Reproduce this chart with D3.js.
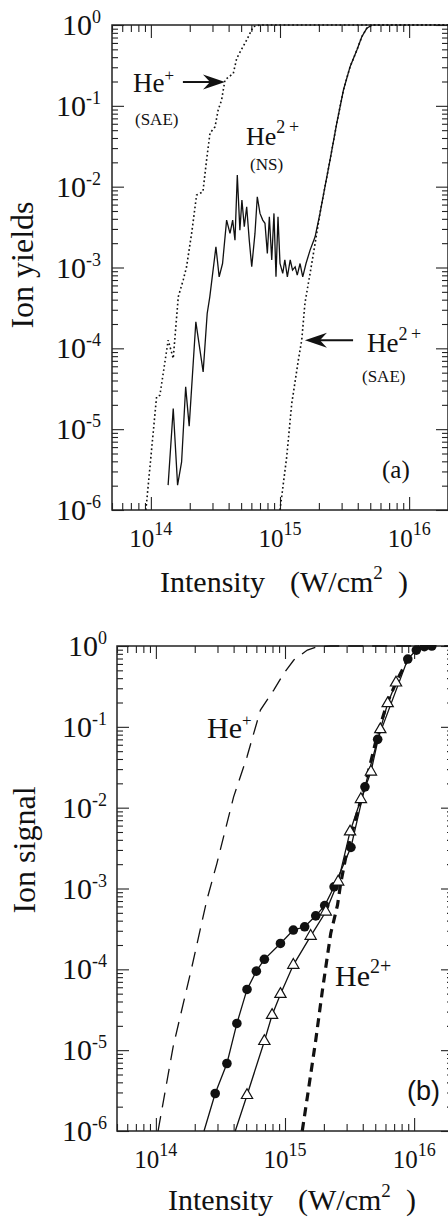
<!DOCTYPE html>
<html><head><meta charset="utf-8">
<script src="https://cdn.jsdelivr.net/npm/d3@7"></script>
<style>body{margin:0;background:#fff}svg{display:block}</style>
</head><body>
<svg id="c" width="448" height="1217"></svg>
<script>
// ---------- Panel (a) data ----------
const aHe1SAE_I = [9.15e13,1.107e14,1.175e14,1.362e14,1.49e14,1.63e14,1.78e14,1.89e14,2.07e14,2.26e14,2.53e14,2.70e14,2.87e14,3.14e14,3.32e14,3.53e14,3.75e14,4.35e14,4.62e14,5.52e14,6.21e14,7.0e14,2e16];
const aHe1SAE_Y = [1e-6,2.51e-5,2.63e-5,1.26e-4,7.5e-5,4.34e-4,7.0e-4,1.02e-3,2.67e-3,7.87e-3,8.65e-3,0.0213,0.046,0.055,0.0887,0.118,0.209,0.252,0.387,0.652,0.953,1,1];

const aHe2SAE_I = [1e15,1.127e15,1.233e15,1.268e15,1.387e15,1.473e15,1.56e15,1.657e15,1.71e15,1.87e15,2.04e15,2.23e15,2.44e15,2.75e15,3.10e15,3.49e15,3.94e15,4.30e15,4.70e15,5.17e15,2e16];
const aHe2SAE_Y = [1e-6,4.54e-6,2.08e-5,2.77e-5,7.14e-5,1.26e-4,3.6e-4,6.35e-4,8.45e-4,1.99e-3,4.67e-3,9.98e-3,0.0213,0.0607,0.157,0.305,0.49,0.717,0.91,1,1];

const aHe2NS_I = [1.36e14,1.49e14,1.61e14,1.73e14,1.86e14,1.98e14,2.23e14,2.54e14,2.73e14,2.86e14,3.19e14,3.38e14,3.59e14,3.86e14,4.10e14,4.30e14,4.48e14,4.67e14,4.89e14,5.07e14,5.29e14,5.52e14,5.78e14,6.04e14,6.40e14,6.67e14,7.0e14,7.35e14,7.65e14,7.98e14,8.27e14,8.63e14,8.98e14,9.31e14,9.65e14,1.0e15,1.05e15,1.09e15,1.14e15,1.20e15,1.25e15,1.31e15,1.36e15,1.43e15,1.50e15,1.59e15,1.71e15,1.87e15,2.04e15,2.23e15,2.44e15,2.75e15,3.10e15,3.49e15,3.94e15,4.30e15,4.70e15,5.17e15];
const aHe2NS_Y = [2.03e-6,1.80e-5,2.03e-6,3.94e-6,3.34e-5,1.09e-5,2.13e-4,5.12e-5,2.70e-4,4.34e-4,1.80e-3,7.67e-4,1.12e-3,3.86e-3,2.64e-3,3.86e-3,2.18e-3,0.0139,2.90e-3,6.83e-3,3.19e-3,5.64e-3,2.18e-3,1.02e-3,2.64e-3,7.50e-3,4.67e-3,3.86e-3,3.52e-3,1.49e-3,4.24e-3,1.24e-3,4.67e-3,7.67e-4,4.24e-3,1.12e-3,8.45e-4,1.24e-3,7.67e-4,1.24e-3,9.29e-4,1.02e-3,8.05e-4,1.12e-3,7.67e-4,1.12e-3,1.64e-3,2.40e-3,4.67e-3,9.98e-3,0.0213,0.0607,0.157,0.305,0.49,0.717,0.91,1.0];

// ---------- Panel (b) data ----------
const bHe1_I = [1.04e14,1.36e14,1.90e14,2.48e14,2.97e14,4.0e14,5.08e14,6.45e14,8.18e14,9.79e14,1.17e15,1.49e15,1.78e15,2.26e15,2e16];
const bHe1_Y = [1e-6,1.10e-5,1.07e-4,7.18e-4,2.05e-3,0.0136,0.0427,0.161,0.285,0.459,0.671,0.892,0.98,1,1];

const bCirc_I = [2.88e14,3.55e14,4.24e14,5.08e14,6.0e14,6.92e14,9.22e14,1.16e15,1.42e15,1.73e15,2.03e15,2.40e15,3.24e15,4.16e15,5.22e15,8.93e15,1.04e16,1.20e16,1.37e16];
const bCirc_Y = [2.91e-6,6.84e-6,2.14e-5,5.64e-5,9.5e-5,1.33e-4,2.09e-4,3.06e-4,3.36e-4,4.59e-4,6.14e-4,1.05e-3,3.23e-3,0.0181,0.070,0.69,0.89,0.98,1.0];
// where the connecting line leaves the bottom axis (no marker)
const bCircLineStart = [2.36e14, 1e-6];

const bTri_I = [5.08e14,6.92e14,7.94e14,9.22e14,1.16e15,1.58e15,2.07e15,2.58e15,3.19e15,3.87e15,4.63e15,5.47e15,6.24e15,7.24e15];
const bTri_Y = [2.77e-6,1.29e-5,2.71e-5,4.93e-5,1.13e-4,2.58e-4,5.15e-4,1.21e-3,5.04e-3,0.0127,0.0278,0.093,0.195,0.351];
const bTriLineStart = [4.12e14, 1e-6];

const bHe2_I = [1.36e15,1.49e15,1.73e15,1.95e15,2.07e15,2.26e15,2.55e15,2.70e15,2.96e15,3.5e15,4.2e15,5.2e15,6.2e15,7.5e15,9.0e15,1.1e16];
const bHe2_Y = [1e-6,2.64e-6,1.33e-5,5.53e-5,1.07e-4,2.78e-4,6.23e-4,1.16e-3,2.47e-3,7e-3,0.02,0.08,0.2,0.4,0.7,1.0];

// tick labels
const xMajor = [1e14,1e15,1e16];
const xMajorLabels = ["14","15","16"];
const yMajor = [1,1e-1,1e-2,1e-3,1e-4,1e-5,1e-6];
const yMajorLabels = ["0","-1","-2","-3","-4","-5","-6"];

const SERIF = "'Liberation Serif','Times New Roman',serif";
const SANS = "'Liberation Sans',Arial,sans-serif";
const svg = d3.select("#c");

function minorVals(lo, hi, e0, e1){
  const out=[];
  for(let e=e0;e<=e1;e++) for(let m=1;m<=9;m++){const v=m*Math.pow(10,e); if(v>=lo*0.999&&v<=hi*1.001&&m!==1) out.push(v);}
  return out;
}

function panel(cfg){
  const x = d3.scaleLog().domain([5e13,2e16]).range([cfg.L,cfg.R]);
  const y = d3.scaleLog().domain([1e-6,1]).range([cfg.B,cfg.T]);
  const g = svg.append("g");
  const cid = "clip"+cfg.id;
  svg.append("defs").append("clipPath").attr("id",cid).append("rect")
    .attr("x",cfg.L).attr("y",cfg.T-1).attr("width",cfg.R-cfg.L).attr("height",cfg.B-cfg.T+2);
  const xm = minorVals(5e13,2e16,13,16), ym = minorVals(1e-6,1,-6,-1);
  const styleAx = sel => { sel.select(".domain").remove(); sel.selectAll("line").attr("stroke","#222").attr("stroke-width",1.1); sel.selectAll("text").remove(); };
  g.append("g").attr("transform",`translate(0,${cfg.B})`).call(d3.axisBottom(x).tickValues(xm).tickSize(-7).tickFormat("")).call(styleAx);
  g.append("g").attr("transform",`translate(0,${cfg.B})`).call(d3.axisBottom(x).tickValues(xMajor).tickSize(-13).tickFormat("")).call(styleAx);
  g.append("g").attr("transform",`translate(0,${cfg.T})`).call(d3.axisTop(x).tickValues(xm).tickSize(-7).tickFormat("")).call(styleAx);
  g.append("g").attr("transform",`translate(0,${cfg.T})`).call(d3.axisTop(x).tickValues(xMajor).tickSize(-13).tickFormat("")).call(styleAx);
  g.append("g").attr("transform",`translate(${cfg.L},0)`).call(d3.axisLeft(y).tickValues(ym).tickSize(-6).tickFormat("")).call(styleAx);
  g.append("g").attr("transform",`translate(${cfg.L},0)`).call(d3.axisLeft(y).tickValues(yMajor).tickSize(-12).tickFormat("")).call(styleAx);
  g.append("g").attr("transform",`translate(${cfg.R},0)`).call(d3.axisRight(y).tickValues(ym).tickSize(-6).tickFormat("")).call(styleAx);
  g.append("g").attr("transform",`translate(${cfg.R},0)`).call(d3.axisRight(y).tickValues(yMajor).tickSize(-12).tickFormat("")).call(styleAx);
  g.append("rect").attr("x",cfg.L).attr("y",cfg.T).attr("width",cfg.R-cfg.L).attr("height",cfg.B-cfg.T)
    .attr("fill","none").attr("stroke","#222").attr("stroke-width",1.5);
  xMajor.forEach((v,i)=>{
    const t = g.append("text").attr("x",x(v)).attr("y",cfg.B+37).attr("text-anchor","middle")
      .attr("font-family",SERIF).attr("font-size",25).attr("fill","#111");
    t.append("tspan").text("10");
    t.append("tspan").attr("dy",-12).attr("font-size",18).text(xMajorLabels[i]);
  });
  yMajor.forEach((v,i)=>{
    const t = g.append("text").attr("x",cfg.L-cfg.ylOff).attr("y",y(v)+10).attr("text-anchor","end")
      .attr("font-family",SERIF).attr("font-size",30).attr("fill","#111");
    t.append("tspan").text("10");
    t.append("tspan").attr("dy",-12).attr("font-size",18).text(yMajorLabels[i]);
  });
  const xt = g.append("text").attr("y",cfg.xtY).attr("font-family",SERIF).attr("font-size",30).attr("fill","#111");
  xt.append("tspan").attr("x",cfg.xtX).text("Intensity");
  xt.append("tspan").attr("x",cfg.xtX+130).text("(W/cm");
  xt.append("tspan").attr("dy",-13).attr("font-size",19).text("2");
  xt.append("tspan").attr("dy",13).attr("x",cfg.xtX+238).text(")");
  g.append("text").attr("transform",`translate(${cfg.ytX},${cfg.ytY}) rotate(-90)`).attr("text-anchor","middle")
    .attr("font-family",SERIF).attr("font-size",32).attr("fill","#111").text(cfg.ytitle);
  const plot = g.append("g").attr("clip-path",`url(#${cid})`);
  return {x,y,g,plot};
}

function lineOf(x,y,I,Y){ return d3.line().x((d,i)=>x(I[i])).y((d,i)=>y(Y[i]))(I); }

// ===== Panel (a) =====
const A = panel({id:"a",L:112,R:448,T:25,B:510,ylOff:11,xtX:160,xtY:592,ytX:33,ytY:265,ytitle:"Ion yields"});
A.plot.append("path").attr("d",lineOf(A.x,A.y,aHe1SAE_I,aHe1SAE_Y)).attr("fill","none").attr("stroke","#111").attr("stroke-width",1.6).attr("stroke-dasharray","1.7,2.6");
A.plot.append("path").attr("d",lineOf(A.x,A.y,aHe2SAE_I,aHe2SAE_Y)).attr("fill","none").attr("stroke","#111").attr("stroke-width",1.6).attr("stroke-dasharray","1.7,2.6");
A.plot.append("path").attr("d",lineOf(A.x,A.y,aHe2NS_I,aHe2NS_Y)).attr("fill","none").attr("stroke","#111").attr("stroke-width",1.3).attr("stroke-linejoin","miter");

function arrow(g,x1,y1,x2,y2){
  const dir = Math.sign(x2-x1);
  g.append("line").attr("x1",x1).attr("y1",y1).attr("x2",x2-dir*14).attr("y2",y2).attr("stroke","#111").attr("stroke-width",2);
  g.append("path").attr("d",`M${x2},${y2} L${x2-dir*22},${y2-7.5} L${x2-dir*15},${y2} L${x2-dir*22},${y2+7.5} Z`).attr("fill","#111");
}
arrow(A.g, A.x(1.77e14), A.y(0.197), A.x(3.75e14), A.y(0.197));
arrow(A.g, A.x(3.68e15), A.y(1.26e-4), A.x(1.56e15), A.y(1.26e-4));

function label(g,xx,yy,main,sup,size,supSize,dy){
  const t = g.append("text").attr("x",xx).attr("y",yy).attr("font-family",SERIF).attr("font-size",size).attr("fill","#111");
  t.append("tspan").text(main);
  if(sup) t.append("tspan").attr("dy",-dy).attr("font-size",supSize).text(sup);
  return t;
}
label(A.g,133,92,"He","+",27,17,11);
label(A.g,135,125,"(SAE)",null,17);
label(A.g,246,145,"He","2\u2009+",26,18,12);
label(A.g,250,170,"(NS)",null,17);
label(A.g,367,352,"He","2\u2009+",27,18,12);
label(A.g,362,382,"(SAE)",null,17);
label(A.g,382,478,"(a)",null,25);

// ===== Panel (b) =====
const B = panel({id:"b",L:117,R:453,T:646,B:1131,ylOff:10,xtX:168,xtY:1210,ytX:35,ytY:850,ytitle:"Ion signal"});
B.plot.append("path").attr("d",lineOf(B.x,B.y,bHe1_I,bHe1_Y)).attr("fill","none").attr("stroke","#111").attr("stroke-width",1.3).attr("stroke-dasharray","15,9");
B.plot.append("path").attr("d",lineOf(B.x,B.y,bHe2_I,bHe2_Y)).attr("fill","none").attr("stroke","#111").attr("stroke-width",3.2).attr("stroke-dasharray","9,6");
B.plot.append("path").attr("d",lineOf(B.x,B.y,[bCircLineStart[0],...bCirc_I],[bCircLineStart[1],...bCirc_Y])).attr("fill","none").attr("stroke","#111").attr("stroke-width",1.3);
B.plot.append("path").attr("d",lineOf(B.x,B.y,[bTriLineStart[0],...bTri_I],[bTriLineStart[1],...bTri_Y])).attr("fill","none").attr("stroke","#111").attr("stroke-width",1.3);
B.plot.selectAll("circle.m").data(bCirc_I).join("circle").attr("class","m")
  .attr("cx",(d)=>B.x(d)).attr("cy",(d,i)=>B.y(bCirc_Y[i])).attr("r",4.8).attr("fill","#111");
B.plot.selectAll("path.t").data(bTri_I).join("path").attr("class","t")
  .attr("transform",(d,i)=>`translate(${B.x(d)},${B.y(bTri_Y[i])})`)
  .attr("d",d3.symbol(d3.symbolTriangle,55)).attr("fill","#fff").attr("stroke","#111").attr("stroke-width",1.2);
label(B.g,207,738,"He","+",30,17,12);
label(B.g,335,986,"He","2+",30,20,13);
B.g.append("text").attr("x",407).attr("y",1100).attr("font-family",SANS).attr("font-size",27).attr("fill","#111").text("(b)");
</script>
</body></html>
